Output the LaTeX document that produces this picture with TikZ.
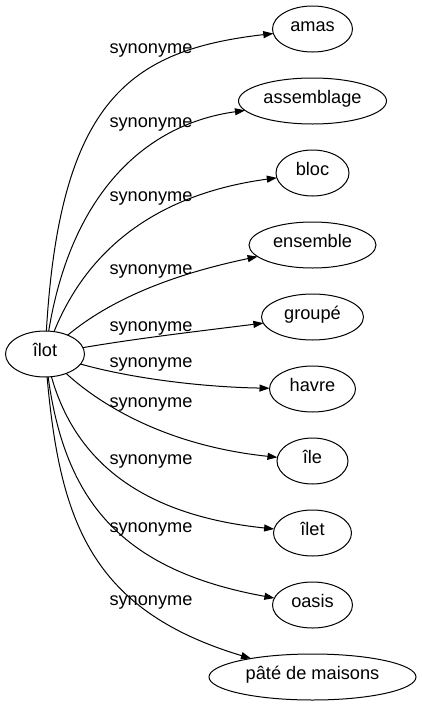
\documentclass[tikz,border=0pt]{standalone}
\usepackage{fontspec}
\setmainfont{Liberation Sans}
\usetikzlibrary{shapes.geometric,arrows.meta}
\begin{document}
\begin{tikzpicture}[x=1pt,y=-1pt,
  every node/.style={font=\fontsize{18.2pt}{20pt}\selectfont},
  term/.style={draw,ellipse,line width=1pt,inner sep=0pt,outer sep=0pt,minimum height=46pt,text height=1ex,text depth=0pt},
  rel/.style={line width=1pt,-{Triangle[length=10pt,width=7pt]}},
  lbl/.style={anchor=base,inner sep=0pt}]
\useasboundingbox (0,0) rectangle (421,707);
\newcommand{\tx}[1]{\makebox[0pt]{#1}}
% source
\node[term,minimum width=79pt] (ilot) at (45,354) {\tx{îlot}};
% targets
\node[term,minimum width=80pt]  (amas) at (312.5,29) {\tx{amas}};
\node[term,minimum width=148pt] (assemblage) at (312.5,101) {\tx{assemblage}};
\node[term,minimum width=73pt]  (bloc) at (312.5,173) {\tx{bloc}};
\node[term,minimum width=127pt] (ensemble) at (312.5,245) {\tx{ensemble}};
\node[term,minimum width=102pt] (groupe) at (312.5,317) {\tx{groupé}};
\node[term,minimum width=86pt]  (havre) at (312.5,389) {\tx{havre}};
\node[term,minimum width=71pt]  (ile) at (312.5,461) {\tx{île}};
\node[term,minimum width=78pt]  (ilet) at (312.5,533) {\tx{îlet}};
\node[term,minimum width=80pt]  (oasis) at (312.5,605) {\tx{oasis}};
\node[term,minimum width=207pt] (pate) at (312.5,677) {\tx{pâté de maisons}};
% edges
\draw[rel] (ilot) .. controls (60,100) and (130,50) .. (amas);
\draw[rel] (ilot) .. controls (70,200) and (140,125) .. (assemblage);
\draw[rel] (ilot) .. controls (85,255) and (150,195) .. (bloc);
\draw[rel] (ilot) .. controls (110,300) and (170,275) .. (ensemble);
\draw[rel] (ilot) .. controls (140,338) and (200,331) .. (groupe);
\draw[rel] (ilot) .. controls (130,378) and (200,387) .. (havre);
\draw[rel] (ilot) .. controls (95,400) and (160,445) .. (ile);
\draw[rel] (ilot) .. controls (75,460) and (140,515) .. (ilet);
\draw[rel] (ilot) .. controls (65,500) and (120,570) .. (oasis);
\draw[rel] (ilot) .. controls (60,520) and (90,610) .. (pate);
% labels
\node[lbl] (l1) at (151,53) {synonyme};
\node[lbl] (l2) at (151,127) {synonyme};
\node[lbl] (l3) at (151,201.5) {synonyme};
\node[lbl] (l4) at (151,274) {synonyme};
\node[lbl] (l5) at (151,331) {synonyme};
\node[lbl] (l6) at (151,367) {synonyme};
\node[lbl] (l7) at (151,407) {synonyme};
\node[lbl] (l8) at (151,464) {synonyme};
\node[lbl] (l9) at (151,532) {synonyme};
\node[lbl] (l10) at (151,605) {synonyme};
\end{tikzpicture}
\end{document}
